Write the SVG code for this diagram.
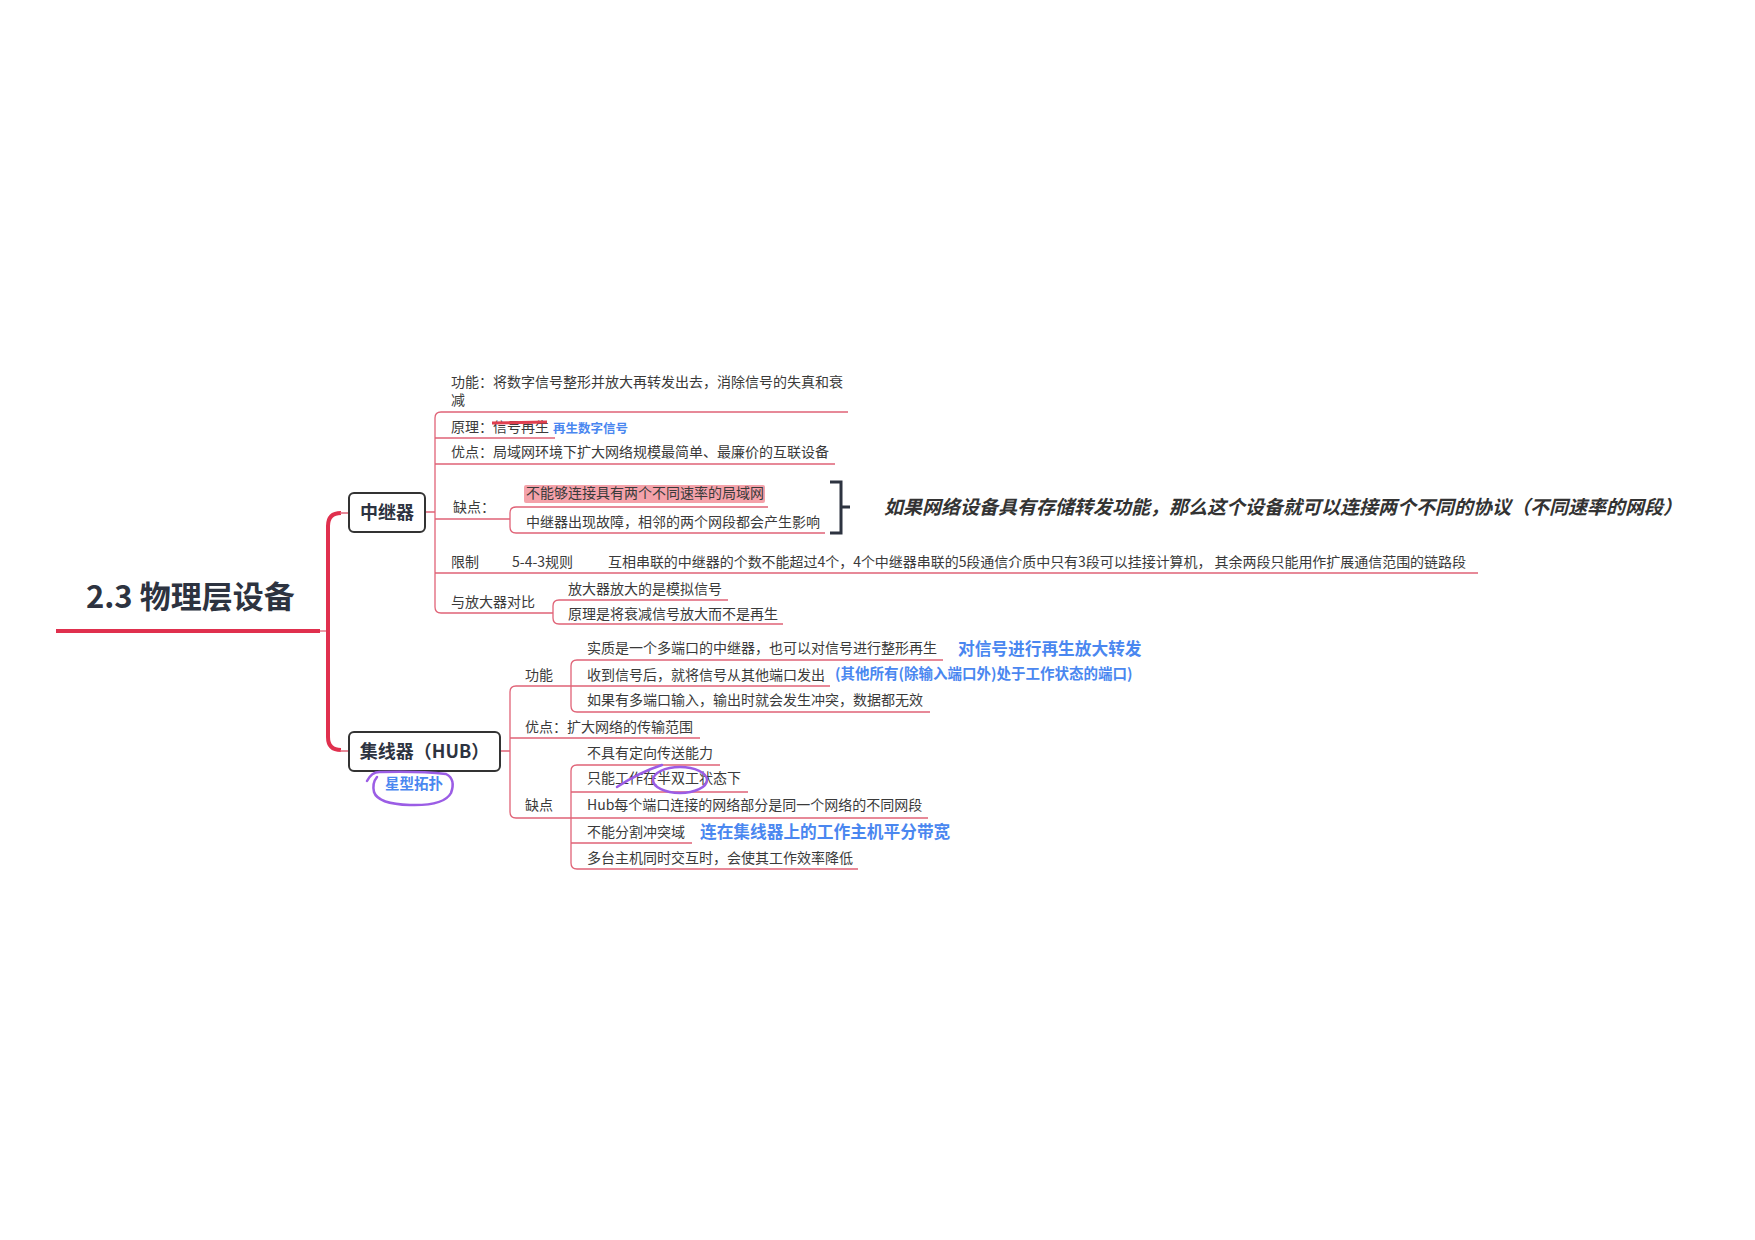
<svg xmlns="http://www.w3.org/2000/svg" width="1755" height="1240" viewBox="0 0 1755 1240">
<style>
text{font-family:"Noto Sans CJK SC","Noto Sans",sans-serif;fill:#3a3a3a;font-size:14px}
.title{font-size:31px;font-weight:bold;fill:#2d3340}
.node{font-size:18px;font-weight:bold;fill:#2d3340}
.blue{fill:#4a87f0;font-weight:bold}
.thin{fill:none;stroke:#e06377;stroke-width:1.3}
.thick{fill:none;stroke:#e0304e;stroke-width:4}
.box{fill:#fff;stroke:#333;stroke-width:2}
.pen{fill:none;stroke:#9b5de5;stroke-width:2.5;stroke-linecap:round}
</style>
<rect width="1755" height="1240" fill="#fff"/>
<g id="connectors">
<line x1="56" y1="631" x2="320" y2="631" stroke="#e0304e" stroke-width="4"/>
<path class="thin" d="M320 631H328"/>
<path class="thick" d="M341 513Q328 513 328 526V737Q328 750 341 750"/>
<path class="thin" d="M340 513H349M340 751H349"/>
<path class="thin" d="M425 512H435M848 412H441Q435 412 435 418V607Q435 613 441 613H553M435 438H555M435 464H835M435 519H510M435 573H1478"/>
<path class="thin" d="M768 507H516Q510 507 510 513V527Q510 533 516 533H825"/>
<path class="thin" d="M728 600H559Q553 600 553 606V618Q553 624 559 624H783"/>
<path class="thin" d="M500 751H510M571 686H516Q510 686 510 692V812Q510 818 516 818H571M510 738H700"/>
<path class="thin" d="M943 660H577Q571 660 571 666V706Q571 712 577 712H930M571 686H830"/>
<path class="thin" d="M720 765H577Q571 765 571 771V863Q571 869 577 869H858M571 792H748M571 818H928M571 843H692"/>
</g>
<g id="root"><text class="title" x="86" y="608">2.3 物理层设备</text></g>
<g id="repeater">
<rect class="box" x="349" y="493" width="76" height="39" rx="5"/>
<text class="node" x="387" y="519" text-anchor="middle">中继器</text>
</g>
<g id="r-func"><text x="451" y="387">功能：将数字信号整形并放大再转发出去，消除信号的失真和衰</text><text x="451" y="405">减</text></g>
<g id="r-principle"><text x="451" y="432">原理：信号再生</text>
<line x1="492" y1="423" x2="547" y2="422" stroke="#e04050" stroke-width="3"/>
<text class="blue" x="553" y="433" style="font-size:12.5px">再生数字信号</text></g>
<g id="r-adv"><text x="451" y="457">优点：局域网环境下扩大网络规模最简单、最廉价的互联设备</text></g>
<g id="r-dis"><text x="453" y="512">缺点：</text></g>
<g id="r-dis1"><rect x="524" y="485" width="241" height="18" rx="2" fill="#f4a2aa"/><text x="526" y="498">不能够连接具有两个不同速率的局域网</text></g>
<g id="r-dis2"><text x="526" y="527">中继器出现故障，相邻的两个网段都会产生影响</text></g>
<g id="bracket"><path d="M830 482H841V533H830M841 507H850" fill="none" stroke="#2d3340" stroke-width="3"/></g>
<g id="note"><text x="884" y="514" style="font-size:19px;font-weight:bold;font-style:italic;fill:#333">如果网络设备具有存储转发功能，那么这个设备就可以连接两个不同的协议（不同速率的网段）</text></g>
<g id="r-limit"><text x="451" y="567">限制</text><text x="512" y="567">5-4-3规则</text>
<text x="608" y="567" textLength="858" lengthAdjust="spacing">互相串联的中继器的个数不能超过4个，4个中继器串联的5段通信介质中只有3段可以挂接计算机， 其余两段只能用作扩展通信范围的链路段</text></g>
<g id="r-cmp"><text x="451" y="607">与放大器对比</text></g>
<g id="r-cmp1"><text x="568" y="594">放大器放大的是模拟信号</text></g>
<g id="r-cmp2"><text x="568" y="619">原理是将衰减信号放大而不是再生</text></g>
<g id="hub">
<rect class="box" x="349" y="732" width="151" height="39" rx="5"/>
<text class="node" x="424.5" y="758" text-anchor="middle">集线器（HUB）</text>
<text class="blue" x="385" y="789" style="font-size:14.5px">星型拓扑</text>
<path class="pen" d="M367 781Q372 771 381 772Q420 771 446 774Q456 779 451 793Q444 806 410 805Q378 804 374 792Q372 783 377 777"/>
</g>
<g id="h-func"><text x="525" y="680">功能</text></g>
<g id="h-f1"><text x="587" y="653">实质是一个多端口的中继器，也可以对信号进行整形再生</text>
<text class="blue" x="958" y="655" style="font-size:16.7px">对信号进行再生放大转发</text></g>
<g id="h-f2"><text x="587" y="680">收到信号后，就将信号从其他端口发出</text>
<text class="blue" x="835" y="679" style="font-size:14.5px">(其他所有(除输入端口外)处于工作状态的端口)</text></g>
<g id="h-f3"><text x="587" y="705">如果有多端口输入，输出时就会发生冲突，数据都无效</text></g>
<g id="h-adv"><text x="525" y="732">优点：扩大网络的传输范围</text></g>
<g id="h-dis"><text x="525" y="810">缺点</text></g>
<g id="h-d1"><text x="587" y="758">不具有定向传送能力</text></g>
<g id="h-d2"><text x="587" y="783">只能工作在半双工状态下</text>
<path class="pen" d="M617 787Q640 772 662 765"/>
<ellipse class="pen" cx="680" cy="780" rx="27" ry="13"/></g>
<g id="h-d3"><text x="587" y="810">Hub每个端口连接的网络部分是同一个网络的不同网段</text></g>
<g id="h-d4"><text x="587" y="837">不能分割冲突域</text>
<text class="blue" x="700" y="838" style="font-size:16.7px">连在集线器上的工作主机平分带宽</text></g>
<g id="h-d5"><text x="587" y="863">多台主机同时交互时，会使其工作效率降低</text></g>
</svg>
